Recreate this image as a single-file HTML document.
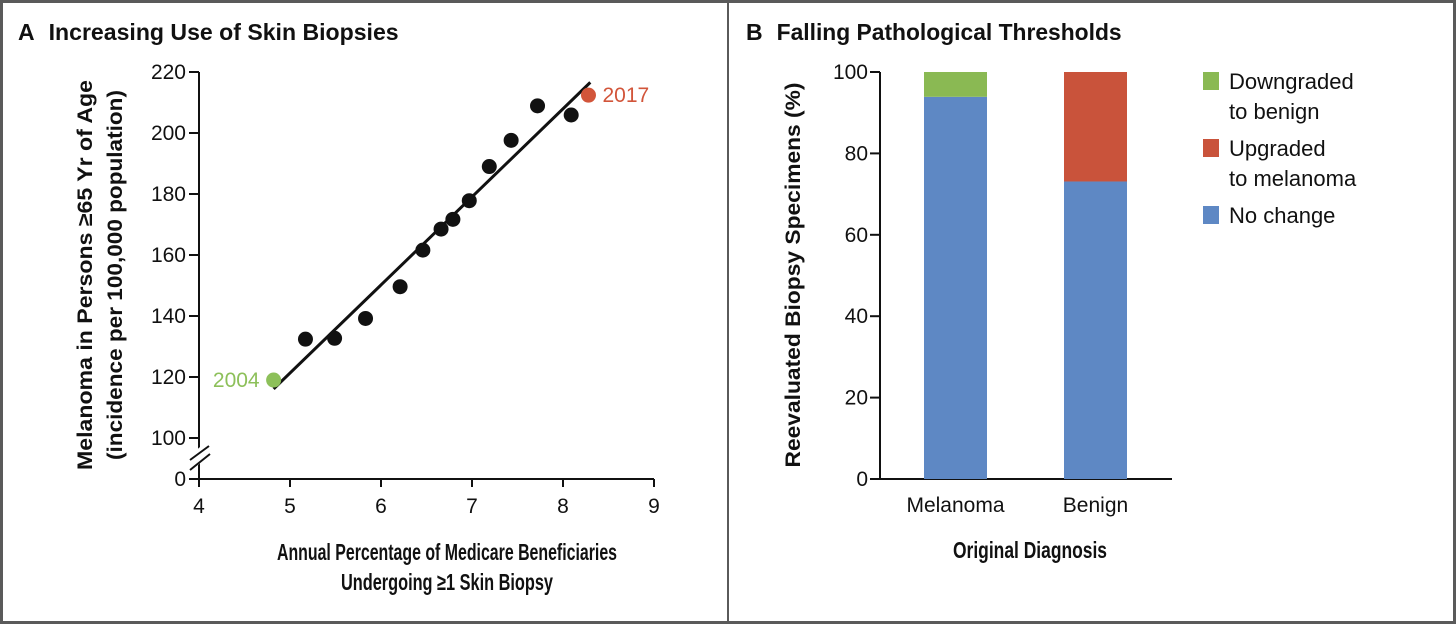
<!DOCTYPE html>
<html><head><meta charset="utf-8"><style>
html,body{margin:0;padding:0;background:#fff}
svg{display:block;font-family:"Liberation Sans",sans-serif}
</style></head><body>
<svg id="c" width="1456" height="624" viewBox="0 0 1456 624" xmlns="http://www.w3.org/2000/svg">
<rect x="1.5" y="1.5" width="1453" height="621" fill="#fff" stroke="#5a5a5a" stroke-width="3"/>
<line x1="728" y1="0" x2="728" y2="624" stroke="#5a5a5a" stroke-width="2"/>
<g id="pa">
<text x="18" y="40" font-size="23" font-weight="bold" fill="#111">A<tspan dx="14" textLength="350" lengthAdjust="spacingAndGlyphs">Increasing Use of Skin Biopsies</tspan></text>
<text transform="translate(92,275) rotate(-90)" text-anchor="middle" font-size="21" font-weight="bold" fill="#111" textLength="390" lengthAdjust="spacingAndGlyphs">Melanoma in Persons ≥65 Yr of Age</text>
<text transform="translate(122,275) rotate(-90)" text-anchor="middle" font-size="21" font-weight="bold" fill="#111" textLength="370" lengthAdjust="spacingAndGlyphs">(incidence per 100,000 population)</text>
<text x="447" y="560" text-anchor="middle" font-size="23" font-weight="bold" fill="#111" textLength="340" lengthAdjust="spacingAndGlyphs">Annual Percentage of Medicare Beneficiaries</text>
<text x="447" y="590" text-anchor="middle" font-size="23" font-weight="bold" fill="#111" textLength="212" lengthAdjust="spacingAndGlyphs">Undergoing ≥1 Skin Biopsy</text>
</g>
<g id="pb">
<text x="746" y="40" font-size="23" font-weight="bold" fill="#111">B<tspan dx="14" textLength="345" lengthAdjust="spacingAndGlyphs">Falling Pathological Thresholds</tspan></text>
<text transform="translate(800,275) rotate(-90)" text-anchor="middle" font-size="21" font-weight="bold" fill="#111" textLength="385" lengthAdjust="spacingAndGlyphs">Reevaluated Biopsy Specimens (%)</text>
<text x="1030" y="558" text-anchor="middle" font-size="23" font-weight="bold" fill="#111" textLength="154" lengthAdjust="spacingAndGlyphs">Original Diagnosis</text>
</g>
</svg>
<script>
const NS="http://www.w3.org/2000/svg";
// Panel A data
const ptsX=[4.82,5.17,5.49,5.83,6.21,6.46,6.66,6.79,6.97,7.19,7.43,7.72,8.09,8.28];
const ptsY=[119,132.4,132.7,139.2,149.6,161.6,168.5,171.7,177.8,189,197.6,208.9,205.9,212.4];
const fitX=[4.82,8.30];
const fitY=[116.1,216.6];
const xTicksA=[4,5,6,7,8,9];
const yTicksA=[100,120,140,160,180,200,220];
// Panel B data
const catsB=["Melanoma","Benign"];
const noChange=[93.9,73.1];
const downgraded=[6.1,0];
const upgraded=[0,26.9];
const yTicksB=[0,20,40,60,80,100];
const legendB=["Downgraded|to benign","Upgraded|to melanoma","No change"];

function mk(p,tag,a,txt){const e=document.createElementNS(NS,tag);for(const k in a)e.setAttribute(k,a[k]);if(txt!=null)e.textContent=txt;p.appendChild(e);return e;}
const pa=document.getElementById('pa'),pb=document.getElementById('pb');
const xA=v=>199+(v-4)*91, yA=v=>72+(220-v)*3.05;
const FS=21;
let ax=mk(pa,'path',{d:`M199 72 V479 H654`,fill:'none',stroke:'#111','stroke-width':2});

xTicksA.forEach(t=>{let l=mk(pa,'line',{x1:xA(t),x2:xA(t),y1:479,y2:487,stroke:'#111','stroke-width':2});

let s=mk(pa,'text',{x:xA(t),y:513,'text-anchor':'middle','font-size':FS,fill:'#111'},t);
});
yTicksA.forEach(t=>{let l=mk(pa,'line',{x1:189,x2:199,y1:yA(t),y2:yA(t),stroke:'#111','stroke-width':2});

let s=mk(pa,'text',{x:186,y:yA(t)+7,'text-anchor':'end','font-size':FS,fill:'#111'},t);
});
let z=mk(pa,'line',{x1:189,x2:199,y1:479,y2:479,stroke:'#111','stroke-width':2});

let zl=mk(pa,'text',{x:186,y:486,'text-anchor':'end','font-size':FS,fill:'#111'},'0');

let br=mk(pa,'path',{d:'M191 458 L205 446 M191 468 L209 452 M193 460 L207 448',fill:'none',stroke:'#fff','stroke-width':5});

let br2=mk(pa,'path',{d:'M190 460 L209 446 M190 470 L210 454',fill:'none',stroke:'#111','stroke-width':2});

let fl=mk(pa,'line',{x1:xA(fitX[0]),y1:yA(fitY[0]),x2:xA(fitX[1]),y2:yA(fitY[1]),stroke:'#111','stroke-width':3});

ptsX.forEach((v,i)=>{const last=i===ptsX.length-1,first=i===0;
let c=mk(pa,'circle',{cx:xA(v),cy:yA(ptsY[i]),r:7.5,fill:first?'#8dc05a':last?'#d2553a':'#111'});
});
let l1=mk(pa,'text',{x:xA(ptsX[0])-14,y:yA(ptsY[0])+7,'text-anchor':'end','font-size':FS,fill:'#8dc05a'},'2004');

let l2=mk(pa,'text',{x:xA(ptsX[13])+14,y:yA(ptsY[13])+7,'font-size':FS,fill:'#d2553a'},'2017');

// Panel B
const yB=v=>479-v*4.07, barX=[924,1064], bw=63;
let axb=mk(pb,'path',{d:`M880 72 V479 H1172`,fill:'none',stroke:'#111','stroke-width':2});

yTicksB.forEach(t=>{let l=mk(pb,'line',{x1:870,x2:880,y1:yB(t),y2:yB(t),stroke:'#111','stroke-width':2});

let s=mk(pb,'text',{x:868,y:yB(t)+7,'text-anchor':'end','font-size':FS,fill:'#111'},t);
});
catsB.forEach((c,i)=>{const x=barX[i];
let b=mk(pb,'rect',{x:x,y:yB(noChange[i]),width:bw,height:noChange[i]*4.07,fill:'#5e88c4'});

let base=noChange[i];
if(downgraded[i]>0){let g=mk(pb,'rect',{x:x,y:yB(base+downgraded[i]),width:bw,height:downgraded[i]*4.07,fill:'#8ab953'});
base+=downgraded[i];}
if(upgraded[i]>0){let r=mk(pb,'rect',{x:x,y:yB(base+upgraded[i]),width:bw,height:upgraded[i]*4.07,fill:'#c9533b'});
}
let t=mk(pb,'text',{x:x+bw/2,y:512,'text-anchor':'middle','font-size':FS,fill:'#111'},c);
});
const legCol=['#8ab953','#c9533b','#5e88c4'];
legendB.forEach((s,i)=>{const y=72+i*67;
let r=mk(pb,'rect',{x:1203,y:y,width:16,height:18,fill:legCol[i]});

s.split('|').forEach((ln,j)=>{let t=mk(pb,'text',{x:1229,y:y+17+j*30,'font-size':22,fill:'#111'},ln);
});});
</script>
</body></html>
